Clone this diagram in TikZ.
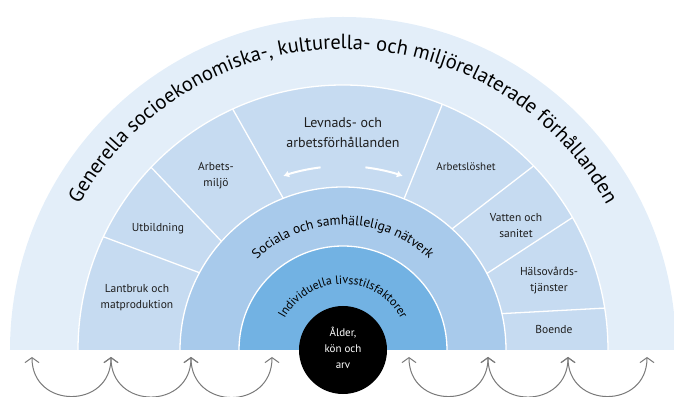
\documentclass[tikz,border=0pt]{standalone}
\usepackage{fontspec}
\setmainfont{PT Sans}
\usetikzlibrary{arrows.meta,decorations.text}

\definecolor{outerblue}{HTML}{E3EEF9}
\definecolor{sectorblue}{HTML}{C6DBF1}
\definecolor{socialblue}{HTML}{A8CAEB}
\definecolor{indivblue}{HTML}{72B2E3}
\definecolor{arrowgray}{HTML}{7A7A7A}
\definecolor{labeltext}{HTML}{1E1E1E}

\begin{document}
\begin{tikzpicture}[x=1pt,y=1pt,
    sepline/.style={white,line width=1.3pt},
    sectorlabel/.style={align=center,text=labeltext,font=\fontsize{11.5}{16}\selectfont},
    looparrow/.style={draw=arrowgray,line width=1pt,
      {Straight Barb[length=5pt,width=14pt]}-{Straight Barb[length=5pt,width=14pt]}},
    turnarrow/.style={white,line width=2pt,-{Latex[length=6pt,width=7pt]}}]
  \useasboundingbox (-343,-46) rectangle (331,350);

  % Rings, outside in
  \fill[outerblue] (-333,0) arc[start angle=180,end angle=0,radius=333pt] -- cycle;
  \fill[sectorblue] (-265,0) arc[start angle=180,end angle=0,radius=265pt] -- cycle;
  \draw[sepline] (-265,0) arc[start angle=180,end angle=0,radius=265pt];
  \fill[socialblue] (-163,0) arc[start angle=180,end angle=0,radius=163pt] -- cycle;
  \draw[sepline] (-163,0) arc[start angle=180,end angle=0,radius=163pt];
  \fill[indivblue] (-104,0) arc[start angle=180,end angle=0,radius=104pt] -- cycle;
  \draw[sepline] (-104,0) arc[start angle=180,end angle=0,radius=104pt];

  % Sector borders (inner angle / outer angle)
  \foreach \a/\b in {151.7/154.7,138.2/136.4,111.5/114.6,68/68,48/44,28/30,12.9/9.1}
    \draw[sepline] (\a:163pt) -- (\b:265pt);

  % Core
  \fill[black] (0,0) circle[radius=44pt];
  \node[align=center,text=white,font=\fontsize{11}{16}\selectfont] (core) at (0,2) {Ålder,\\kön och\\arv};

  % Sector labels
  \node[sectorlabel] (lantbruk) at (-206,52) {Lantbruk och\\matproduktion};
  \node[sectorlabel] (utbildning) at (-185,121) {Utbildning};
  \node[sectorlabel] (arbetsmiljo) at (-127,174) {Arbets-\\miljö};
  \node[align=center,text=labeltext,font=\fontsize{14}{20}\selectfont] (levnad) at (0,217) {Levnads- och\\arbetsförhållanden};
  \node[sectorlabel,font=\fontsize{11}{15}\selectfont] (arbetsloshet) at (123,183) {Arbetslöshet};
  \node[sectorlabel] (vatten) at (173,124) {Vatten och\\sanitet};
  \node[sectorlabel] (halsovard) at (206,70) {Hälsovårds-\\tjänster};
  \node[sectorlabel] (boende) at (211,21) {Boende};

  % Arrows under the heading
  \draw[turnarrow] (97:184pt) arc[start angle=97,end angle=109,radius=184pt];
  \draw[turnarrow] (83:184pt) arc[start angle=83,end angle=71,radius=184pt];

  % Curved ring texts
  \path[decorate,decoration={text along path,text align=center,
      text={|\fontsize{20.5}{20.5}\selectfont|Generella socioekonomiska-, kulturella- och miljörelaterade förhållanden}}]
    (180:301pt) arc[start angle=180,end angle=0,radius=301pt];
  \path[decorate,decoration={text along path,text align=center,
      text={|\fontsize{13.5}{13.5}\selectfont|Sociala och samhälleliga nätverk}}]
    (180:125pt) arc[start angle=180,end angle=0,radius=125pt];
  \path[decorate,decoration={text along path,text align=center,
      text={|\fontsize{12}{12}\selectfont|Individuella livsstilsfaktorer}}]
    (180:66pt) arc[start angle=180,end angle=0,radius=66pt];

  % Loops below the base line
  \foreach \x [count=\i] in {-311,-232,-152,-71,66,145,225,304}
    \coordinate (h\i) at (\x,-7);
  \foreach \a/\b in {h1/h2,h2/h3,h3/h4,h5/h6,h6/h7,h7/h8}
    \draw[looparrow] (\a) to[out=-90,in=-90,looseness=1.7] (\b);
\end{tikzpicture}
\end{document}
